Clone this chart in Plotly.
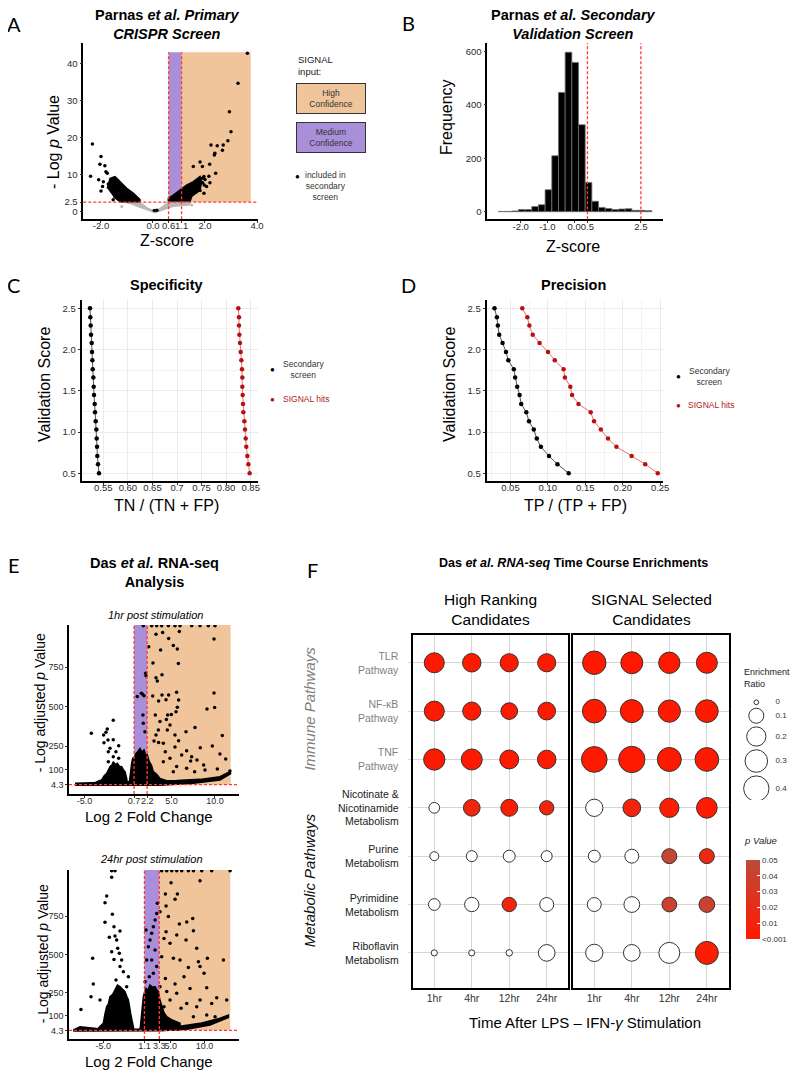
import plotly.graph_objects as go

# the page body keeps a default 8px margin, so the figure is drawn 8px in and 8px down
OX, OY = 8, 8
W, H = 800 - OX, 1077 - OY
FONT = "Liberation Sans"
ORANGE = "#F0C59B"
PURPLE = "#A98FD9"
RED_DASH = "#FF3B2F"

# ---------------- A: primary CRISPR screen (z-score vs -log p) ----------------
a_left_cloud_z = [-1.76, -1.65, -1.46, -1.27, -1.01, -0.76, -0.50, -0.50, -1.27, -1.53]
a_left_cloud_p = [6.2, 8.9, 9.4, 8.0, 6.2, 4.9, 3.2, 2.6, 2.6, 4.0]
a_right_cloud_z = [0.59, 0.59, 0.78, 1.04, 1.29, 1.55, 1.81, 1.87, 1.81, 1.49, 1.42]
a_right_cloud_p = [2.6, 3.5, 4.4, 5.8, 7.1, 8.0, 9.4, 8.0, 5.8, 4.0, 2.6]
a_gray_z = [-1.27, -0.50, -0.18, 0.08, 0.27, 0.59, 1.42, 1.42, 0.78, 0.40, 0.08, -0.24, -0.76]
a_gray_p = [2.5, 2.5, 0.8, 0.1, 0.8, 2.5, 2.5, 1.7, 1.3, 0.4, -0.4, 0.4, 1.7]
a_hit_z = [-2.33, -2.0, -2.04, -1.85, -2.40, -2.0, -1.81, -2.09, -1.91, -1.76, -1.94, -1.72, -1.53,
           3.63, 3.27, 2.94, 3.0, 2.88, 2.23, 2.47, 2.70, 2.67, 2.38, 2.36, 1.81, 1.90, 2.18,
           1.55, 2.41, 2.15, 1.96, 1.9, 1.76, 1.91, 1.97, 1.81, 1.68, 1.96, 2.06, 2.19, 2.0,
           0.05, 0.15]
a_hit_p = [18.2, 14.8, 12.7, 12.3, 9.5, 5.5, 10.7, 8.5, 8.0, 10.3, 6.7, 7.4, 3.1,
           42.7, 34.6, 26.9, 21.5, 19.1, 17.9, 17.7, 17.9, 16.5, 15.7, 15.2, 13.3, 12.1, 12.7,
           12.1, 10.3, 9.5, 9.4, 8.9, 7.9, 7.7, 7.1, 5.6, 5.3, 4.9, 6.7, 7.7, 8.6,
           0.2, 0.3]
a_gray_pts_z = [1.49, -1.2]
a_gray_pts_p = [1.7, 1.3]

# ---------------- B: secondary validation histogram ----------------
b_bin_centers = [-2.71, -2.46, -2.21, -1.96, -1.71, -1.46, -1.21, -0.96, -0.71, -0.46, -0.21, 0.04,
                 0.29, 0.54, 0.79, 1.04, 1.29, 1.54, 1.79, 2.04, 2.29, 2.54, 2.79]
b_counts = [1, 1, 3, 8, 8, 19, 26, 82, 209, 446, 596, 558, 325, 109, 39, 16, 12, 8, 10, 11, 5, 5, 4]

# ---------------- C / D: specificity and precision ----------------
val_score = [0.50, 0.61, 0.71, 0.82, 0.92, 1.03, 1.13, 1.24, 1.34, 1.45,
             1.55, 1.66, 1.76, 1.87, 1.97, 2.08, 2.18, 2.29, 2.39, 2.50]
spec_secondary = [0.5412, 0.5392, 0.5378, 0.5372, 0.5365, 0.5358, 0.5345, 0.5331, 0.5324, 0.5311,
                  0.5304, 0.5297, 0.5284, 0.5277, 0.5270, 0.5263, 0.5250, 0.5243, 0.5236, 0.5229]
spec_signal = [0.8479, 0.8452, 0.8432, 0.8411, 0.8398, 0.8384, 0.8371, 0.8350, 0.8344, 0.8337,
               0.8330, 0.8330, 0.8323, 0.8310, 0.8296, 0.8282, 0.8269, 0.8262, 0.8262, 0.8248]
prec_secondary = [0.1278, 0.1128, 0.1015, 0.0907, 0.0852, 0.0812, 0.0748, 0.0712, 0.0644, 0.0622,
                  0.0590, 0.0563, 0.0545, 0.0472, 0.0441, 0.0395, 0.0350, 0.0332, 0.0319, 0.0287]
prec_signal = [0.2468, 0.2300, 0.2119, 0.1916, 0.1803, 0.1708, 0.1617, 0.1572, 0.1409, 0.1323,
               0.1300, 0.1228, 0.1210, 0.1092, 0.1002, 0.0889, 0.0798, 0.0753, 0.0726, 0.0658]

# ---------------- E: RNA-seq volcano plots ----------------
e1_left_x = [-4.3, -3.98, -3.60, -3.30, -3.03, -2.75, -2.45, -2.25, -2.07, -1.85, -1.69, -1.45,
             -1.23, -0.95, -0.73, -0.50, -0.34, -0.15, -0.04]
e1_left_y = [2, 12, 23, 30, 34, 60, 76, 105, 119, 128, 150, 132, 140, 118, 119, 96, 87, 44, 2]
e1_mid_x = [0.11, 0.20, 0.31, 0.42, 0.54, 0.75, 0.92, 1.15, 1.38, 1.60, 1.84, 2.05, 2.22, 2.45,
            2.70, 2.91, 3.30, 3.68, 4.20, 4.83, 4.83]
e1_mid_y = [2, 60, 87, 140, 172, 180, 203, 215, 235, 212, 225, 190, 193, 150, 128, 87, 70, 44, 36, 23, 2]
e1_base_x = [-6.09, -3.98, -0.15, 5.59, 8.28, 10.57, 11.72, 11.8, 10.57, 7.51, 3.68, -6.09]
e1_base_y = [13, 17, 23, 30, 38, 55, 87, 74, 34, 13, 0, 0]
e1_pts_x = [2.72, 3.30, 3.87, 4.64, 5.40, 5.98, 7.32, 8.28, 9.23, 10.0, 1.76,
            3.98, 5.90, 3.22, 4.67, 5.21, 3.75, 5.67, 9.89, 2.38, 2.87,
            5.79, 3.91, 3.22, 3.37, 2.03, 2.07, 1.65, 1.84, 3.91, 4.67,
            2.84, 5.59, 5.82, 4.37, 9.89, 9.96, 9.08, 3.52, 5.67, 5.52,
            4.98, 4.56, 4.41, 3.68, 3.14, 3.49, 4.83, 4.52, 5.40, 7.70,
            6.67, 10.84, 5.82, 3.22, 2.99, 4.06, 3.52, 9.69, 8.31, 6.74,
            5.40, 7.32, 7.93, 10.57, 11.23, 8.70, 10.27, 7.20, 6.17, 4.29,
            4.83, 4.06, 6.74, 5.59, 5.21, 7.66, 8.85, 11.72,
            1.53, 1.95, 1.76, 1.72, 1.07,
            -4.21, -1.69, -2.38, -2.53, -2.80, -2.30, -1.69, -2.76, -1.07, -2.07, -1.38,
            -2.26, -1.69, -1.07, -2.26, -1.88]
e1_pts_y = [1015, 1015, 1015, 1015, 1015, 1015, 1015, 1015, 1015, 1015, 1015,
            972, 977, 960, 934, 888, 860, 867, 930, 881, 778,
            775, 703, 684, 663, 712, 697, 581, 570, 574, 574,
            568, 591, 542, 544, 587, 494, 485, 536, 496, 468,
            451, 447, 419, 405, 447, 352, 383, 352, 320, 367,
            341, 316, 284, 320, 282, 267, 273, 250, 239, 220,
            244, 182, 161, 199, 167, 129, 104, 155, 193, 214,
            172, 150, 108, 119, 87, 87, 97, 91,
            585, 341, 394, 447, 564,
            331, 413, 358, 337, 320, 288, 290, 271, 252, 235, 214,
            214, 182, 172, 150, 119]

e2_left_x = [-6.5, -5.98, -5.5, -4.99, -4.75, -4.49, -4.25, -4.0, -3.6, -3.26, -2.9, -2.52,
             -2.15, -1.78, -1.5, -1.28, -0.94, -0.64, -0.44]
e2_left_y = [2, 7, 30, 50, 110, 159, 175, 224, 240, 267, 300, 289, 275, 257, 225, 202, 115, 28, 2]
e2_mid_x = [0.44, 0.55, 0.69, 0.80, 0.94, 1.10, 1.33, 1.60, 1.93, 2.30, 2.67, 2.90, 3.16, 3.40,
            3.65, 4.00, 4.40, 5.30, 6.37, 6.37]
e2_mid_y = [2, 60, 115, 180, 224, 250, 278, 265, 300, 285, 289, 270, 257, 200, 159, 120, 93, 70, 50, 2]
e2_base_x = [-9.43, -8.44, -5.98, -0.05, 5.88, 9.33, 12.30, 13.53, 13.53, 10.81, 7.36, 3.41, -9.43]
e2_base_y = [7, 28, 17, 11, 28, 50, 83, 104, 89, 39, 11, 2, 0]
e2_pts_x = [3.65, 4.40, 5.14, 5.88, 6.62, 7.60, 8.35, 9.58, 11.06, 13.78, -3.75, -3.26,
            9.33, 5.04, 4.20, 5.98, 5.63, 4.30, 3.41, 4.64, 7.36, 8.25,
            6.27, 8.35, 4.30, 5.88, 7.26, 4.0, 4.89, 8.84, 10.42, 12.79,
            9.09, 3.65, 5.38, 6.37, 7.60, 9.33, 9.93, 6.96, 4.20, 5.63,
            7.85, 10.32, 11.80, 13.28, 9.33, 5.88, 4.89, 7.36, 11.06, 8.84,
            6.52, 4.0, 4.40, 3.41, 11.56, 10.32, 8.35,
            3.01, 2.91, 2.67, 2.42, 2.17, 1.93, 1.33, 1.68, 2.67, 1.43, 2.17, 2.91, 2.42, 1.83, 1.19,
            -3.75, -4.49, -4.74, -3.65, -4.74, -3.41, -2.52, -4.10, -3.26, -3.01, -2.86, -2.62,
            -3.75, -6.57, -3.41, -2.27, -2.52, -2.02, -1.28, -6.47, -3.11, -6.81, -8.30, -5.48, -1.53]
e2_pts_y = [1045, 1045, 1045, 1045, 1045, 1045, 1045, 1045, 1045, 1045, 1045, 1045,
            980, 967, 893, 893, 859, 815, 778, 746, 711, 733,
            698, 654, 648, 626, 593, 604, 572, 539, 474, 463,
            452, 485, 474, 463, 415, 420, 376, 354, 343, 307,
            278, 283, 217, 202, 202, 246, 202, 180, 180, 159,
            148, 159, 257, 289, 93, 104, 93,
            833, 767, 724, 680, 637, 593, 659, 550, 528, 463, 463, 420, 376, 354, 322,
            1002, 880, 837, 761, 709, 680, 652, 611, 620, 593, 539, 507,
            517, 474, 467, 463, 420, 387, 354, 307, 333, 224, 141, 202, 289]

# ---------------- F: enrichment dot plot ----------------
f_times = ["1hr", "4hr", "12hr", "24hr"]
f_pathways = ["TLR<br>Pathway", "NF-\u03baB<br>Pathway", "TNF<br>Pathway",
              "Nicotinate &<br>Nicotinamide<br>Metabolism", "Purine<br>Metabolism",
              "Pyrimidine<br>Metabolism", "Riboflavin<br>Metabolism"]
f_immune = [True, True, True, False, False, False, False]
hr_ratio = [[0.22, 0.18, 0.17, 0.17],
            [0.22, 0.17, 0.135, 0.16],
            [0.26, 0.25, 0.19, 0.18],
            [0.034, 0.135, 0.142, 0.087],
            [0.017, 0.037, 0.05, 0.037],
            [0.046, 0.087, 0.087, 0.081],
            [0.002, 0.002, 0.003, 0.135]]
hr_pval = [[0.0005, 0.0005, 0.0005, 0.0005],
           [0.0005, 0.0005, 0.0005, 0.0005],
           [0.0005, 0.0005, 0.0005, 0.0005],
           [1, 0.012, 0.002, 0.01],
           [1, 1, 1, 1],
           [1, 1, 0.01, 1],
           [1, 1, 1, 1]]
sg_ratio = [[0.33, 0.28, 0.26, 0.25],
            [0.34, 0.315, 0.29, 0.305],
            [0.415, 0.44, 0.35, 0.34],
            [0.15, 0.16, 0.20, 0.24],
            [0.05, 0.08, 0.10, 0.10],
            [0.08, 0.115, 0.095, 0.115],
            [0.15, 0.135, 0.25, 0.315]]
sg_pval = [[0.0005, 0.0005, 0.0005, 0.0005],
           [0.0005, 0.0005, 0.0005, 0.0005],
           [0.0005, 0.0005, 0.0005, 0.0005],
           [1, 0.01, 0.003, 0.001],
           [1, 1, 0.045, 0.015],
           [1, 1, 0.04, 0.04],
           [1, 1, 1, 0.004]]
legend_ratios = [0, 0.1, 0.2, 0.3, 0.4]
pval_ticks = [0.0, 0.01, 0.02, 0.03, 0.04, 0.05]
pval_ticktext = ["<0.001", "0.01", "0.02", "0.03", "0.04", "0.05"]


# page pixel -> paper fraction helpers
def px_x(x):
    return (x - OX) / W


def px_y(y):
    return 1 - (y - OY) / H


def xd(left, right):
    return [px_x(left), px_x(right)]


def yd(top, bottom):
    return [px_y(bottom), px_y(top)]


def dot_size(r):
    return 4.7 + 32.6 * r ** 0.5


def note(text, x, y, size=10, color="#000", angle=0, xanchor="center", yanchor="middle",
         align="center", family=FONT, **kw):
    d = dict(text=text, x=px_x(x), y=px_y(y), xref="paper", yref="paper", showarrow=False,
             font=dict(family=family, size=size, color=color), textangle=angle,
             xanchor=xanchor, yanchor=yanchor, align=align)
    d.update(kw)
    return d


def axis(domain, rng, anchor, **kw):
    d = dict(domain=domain, range=rng, anchor=anchor, showgrid=False, zeroline=False,
             showline=True, linecolor="black", linewidth=1.5, ticks="outside", ticklen=2,
             tickcolor="#333", tickangle=0, automargin=False,
             tickfont=dict(family=FONT, size=9.5, color="#2B2B2B"))
    d.update(kw)
    return d


fig = go.Figure()

# A
fig.add_trace(go.Scatter(x=a_gray_z, y=a_gray_p, fill="toself", fillcolor="#B8B8B8", mode="lines",
                         line=dict(color="#B8B8B8", width=1), xaxis="x", yaxis="y"))
fig.add_trace(go.Scatter(x=a_gray_pts_z, y=a_gray_pts_p, mode="markers",
                         marker=dict(color="#B8B8B8", size=3), xaxis="x", yaxis="y"))
for cx, cy in [(a_left_cloud_z, a_left_cloud_p), (a_right_cloud_z, a_right_cloud_p)]:
    fig.add_trace(go.Scatter(x=cx, y=cy, fill="toself", fillcolor="black", mode="lines",
                             line=dict(color="black", width=1.5), xaxis="x", yaxis="y"))
fig.add_trace(go.Scatter(x=a_hit_z, y=a_hit_p, mode="markers", marker=dict(color="black", size=3.5),
                         xaxis="x", yaxis="y"))

# B
fig.add_trace(go.Bar(x=b_bin_centers, y=b_counts, width=0.25, marker=dict(color="black",
                     line=dict(color="#707070", width=0.8)), xaxis="x2", yaxis="y2"))

# C, D
for xs, col, lcol, xa, ya in [(spec_secondary, "black", "#555", "x3", "y3"),
                              (spec_signal, "#B80F0F", "#E57373", "x3", "y3"),
                              (prec_secondary, "black", "#555", "x4", "y4"),
                              (prec_signal, "#B80F0F", "#E57373", "x4", "y4")]:
    fig.add_trace(go.Scatter(x=xs, y=val_score, mode="lines+markers",
                             line=dict(color=lcol, width=1), marker=dict(color=col, size=4.5),
                             xaxis=xa, yaxis=ya))

# E
for polys, px, py, xa, ya in [
        ([(e1_left_x, e1_left_y), (e1_mid_x, e1_mid_y), (e1_base_x, e1_base_y)], e1_pts_x, e1_pts_y, "x5", "y5"),
        ([(e2_left_x, e2_left_y), (e2_mid_x, e2_mid_y), (e2_base_x, e2_base_y)], e2_pts_x, e2_pts_y, "x6", "y6")]:
    for cx, cy in polys:
        fig.add_trace(go.Scatter(x=cx, y=cy, fill="toself", fillcolor="black", mode="lines",
                                 line=dict(color="black", width=1.5), xaxis=xa, yaxis=ya))
    fig.add_trace(go.Scatter(x=px, y=py, mode="markers", marker=dict(color="black", size=3.5),
                             xaxis=xa, yaxis=ya))

# F dot plots
for ratio, pval, xa, ya in [(hr_ratio, hr_pval, "x7", "y7"), (sg_ratio, sg_pval, "x8", "y8")]:
    sx, sy, ss, sc, nx, ny, ns = [], [], [], [], [], [], []
    for i in range(len(f_pathways)):
        for j in range(len(f_times)):
            if pval[i][j] <= 0.05:
                sx.append(j); sy.append(i); ss.append(dot_size(ratio[i][j])); sc.append(pval[i][j])
            else:
                nx.append(j); ny.append(i); ns.append(dot_size(ratio[i][j]))
    fig.add_trace(go.Scatter(x=nx, y=ny, mode="markers", xaxis=xa, yaxis=ya,
                             marker=dict(size=ns, color="white", opacity=1,
                                         line=dict(color="#333", width=1))))
    fig.add_trace(go.Scatter(x=sx, y=sy, mode="markers", xaxis=xa, yaxis=ya,
                             marker=dict(size=ss, color=sc, coloraxis="coloraxis", opacity=1,
                                         line=dict(color="#333", width=1))))

# size legend (stacked circles)
leg_sizes = [dot_size(r) for r in legend_ratios]
leg_y = []
cur = 702.3
for k, s in enumerate(leg_sizes):
    if k > 0:
        cur += (leg_sizes[k - 1] + s) / 2 + 3.6
    leg_y.append(cur)
fig.add_trace(go.Scatter(x=[756.3] * len(leg_sizes), y=leg_y, mode="markers", xaxis="x9", yaxis="y9",
                         marker=dict(size=leg_sizes, color="white", opacity=1,
                                     line=dict(color="#333", width=1))))
fig.add_trace(go.Scatter(x=[775.5] * len(leg_sizes), y=leg_y, mode="text", xaxis="x9", yaxis="y9",
                         text=[str(r) for r in legend_ratios], textposition="middle right",
                         textfont=dict(family=FONT, size=8, color="#333")))

fig.update_traces(showlegend=False, hoverinfo="skip")

grid = "#EBEBEB"
f_grid = "#D6D6D6"
small = dict(family=FONT, size=9, color="#2B2B2B")
layout = dict(
    width=W, height=H, margin=dict(l=0, r=0, t=0, b=0, pad=0, autoexpand=False),
    plot_bgcolor="white", paper_bgcolor="white", showlegend=False,
    font=dict(family=FONT),
    xaxis=axis(xd(83.3, 258.3), [-2.68, 4.05], "y", tickvals=[-2.0, 0.0, 0.6, 1.1, 2.0, 4.0],
               ticktext=["-2.0", "0.0", "0.6", "1.1", "2.0", "4.0"], ticklabelstandoff=-5),
    yaxis=axis(yd(43.3, 219.3), [-2.16, 45.4], "x", tickvals=[0, 2.5, 10, 20, 30, 40],
               ticktext=["0", "2.5", "10", "20", "30", "40"]),
    xaxis2=axis(xd(487.3, 663.3), [-3.25, 3.34], "y2", tickvals=[-2.0, -1.0, 0.0, 0.5, 2.5],
                ticktext=["-2.0", "-1.0", "0.0", "0.5", "2.5"], ticklabelstandoff=-4),
    yaxis2=axis(yd(43.3, 219.3), [-28.4, 629.5], "x2", tickvals=[0, 200, 400, 600]),
    xaxis3=axis(xd(81.7, 258.3), [0.506, 0.8655], "y3", tickvals=[0.55, 0.6, 0.65, 0.7, 0.75, 0.8, 0.85],
                ticktext=["0.55", "0.60", "0.65", "0.7", "0.75", "0.80", "0.85"], showgrid=True,
                gridcolor=grid, linewidth=2, ticklabelstandoff=-5),
    yaxis3=axis(yd(300, 480.7), [0.41, 2.6], "x3", tickvals=[0.5, 1.0, 1.5, 2.0, 2.5],
                ticktext=["0.5", "1.0", "1.5", "2.0", "2.5"], showgrid=True, gridcolor=grid, linewidth=2,
                minor=dict(dtick=0.25, tick0=0.25, showgrid=True, gridcolor="#F3F3F3")),
    xaxis4=axis(xd(486.7, 663.3), [0.0183, 0.2542], "y4", tickvals=[0.05, 0.10, 0.15, 0.20, 0.25],
                ticktext=["0.05", "0.10", "0.15", "0.20", "0.25"], showgrid=True, gridcolor=grid, linewidth=2,
                ticklabelstandoff=-5,
                minor=dict(dtick=0.025, tick0=0.025, showgrid=True, gridcolor="#F3F3F3")),
    yaxis4=axis(yd(300, 480.7), [0.41, 2.6], "x4", tickvals=[0.5, 1.0, 1.5, 2.0, 2.5],
                ticktext=["0.5", "1.0", "1.5", "2.0", "2.5"], showgrid=True, gridcolor=grid, linewidth=2,
                minor=dict(dtick=0.25, tick0=0.25, showgrid=True, gridcolor="#F3F3F3")),
    xaxis5=axis(xd(69, 239), [-6.78, 12.76], "y5", tickvals=[-5, 0.7, 2.2, 5, 10],
                ticktext=["-5.0", "0.7", "2.2", "5.0", "10.0"], tickfont=small, ticklabelstandoff=-5),
    yaxis5=axis(yd(625, 794), [-55, 1019], "x5", tickvals=[4.3, 100, 250, 500, 750],
                ticktext=["4.3", "100", "250", "500", "750"], tickfont=small),
    xaxis6=axis(xd(69, 239), [-10.07, 15.1], "y6", tickvals=[-5, 1.1, 3.3, 5, 10],
                ticktext=["-5.0", "1.1", "3.3", "5.0", "10.0"], tickfont=small, ticklabelstandoff=-5),
    yaxis6=axis(yd(870, 1039), [-52, 1050], "x6", tickvals=[4.3, 100, 250, 500, 750],
                ticktext=["4.3", "100", "250", "500", "750"], tickfont=small),
    xaxis7=axis(xd(412.7, 567.7), [-0.576, 3.56], "y7", tickvals=[0, 1, 2, 3], ticktext=f_times,
                showgrid=True, gridcolor=f_grid, mirror=True, linewidth=2, ticks="",
                tickfont=dict(family=FONT, size=10.5, color="#333")),
    yaxis7=axis(yd(635, 987.7), [6.72, -0.574], "x7", tickvals=list(range(7)), showticklabels=False,
                showgrid=True, gridcolor=f_grid, mirror=True, linewidth=2, tickcolor=f_grid, ticklen=3),
    xaxis8=axis(xd(573.3, 729), [-0.559, 3.59], "y8", tickvals=[0, 1, 2, 3], ticktext=f_times,
                showgrid=True, gridcolor=f_grid, mirror=True, linewidth=2, ticks="",
                tickfont=dict(family=FONT, size=10.5, color="#333")),
    yaxis8=axis(yd(635, 987.7), [6.72, -0.574], "x8", tickvals=list(range(7)), showticklabels=False,
                showgrid=True, gridcolor=f_grid, mirror=True, linewidth=2, ticks=""),
    xaxis9=dict(domain=xd(740, 790), range=[740, 790], anchor="y9", visible=False),
    yaxis9=dict(domain=yd(695, 800), range=[800, 695], anchor="x9", visible=False),
    coloraxis=dict(colorscale=[[0, "#FF1A00"], [1, "#BE4A3B"]], cmin=0, cmax=0.05,
                   colorbar=dict(x=px_x(746), xanchor="left", xpad=0, y=px_y(860), yanchor="top",
                                 ypad=0, len=79 / H, lenmode="fraction", thickness=14,
                                 outlinewidth=0, tickvals=pval_ticks, ticktext=pval_ticktext,
                                 ticks="inside", tickcolor="white", ticklen=3,
                                 tickfont=dict(family=FONT, size=8, color="#333"))),
)
fig.update_layout(**layout)

shapes = []


def band(xa, ya, x0, x1, y0, y1, color):
    shapes.append(dict(type="rect", xref=xa, yref=ya, x0=x0, x1=x1, y0=y0, y1=y1,
                       fillcolor=color, line=dict(width=0), layer="below"))


def dash_line(xa, ya, x0, x1, y0, y1):
    shapes.append(dict(type="line", xref=xa, yref=ya, x0=x0, x1=x1, y0=y0, y1=y1,
                       line=dict(color=RED_DASH, width=1.3, dash="3px,2px"), layer="above"))


band("x", "y", 1.1, 3.76, 2.5, 43, ORANGE)
band("x", "y", 0.6, 1.1, 2.5, 43, PURPLE)
dash_line("x domain", "y", 0, 1, 2.5, 2.5)
dash_line("x", "y", 0.6, 0.6, -2.16, 43)
dash_line("x", "y", 1.1, 1.1, -2.16, 43)

dash_line("x2", "y2 domain", 0.5, 0.5, 0, 1)
dash_line("x2", "y2 domain", 2.5, 2.5, 0, 1)

band("x5", "y5", 2.2, 11.8, 4.3, 1019, ORANGE)
band("x5", "y5", 0.7, 2.2, 4.3, 1019, PURPLE)
dash_line("x5 domain", "y5", 0, 1, 4.3, 4.3)
dash_line("x5", "y5", 0.7, 0.7, -55, 1019)
dash_line("x5", "y5", 2.2, 2.2, -55, 1019)

band("x6", "y6", 3.3, 13.8, 4.3, 1050, ORANGE)
band("x6", "y6", 1.1, 3.3, 4.3, 1050, PURPLE)
dash_line("x6 domain", "y6", 0, 1, 4.3, 4.3)
dash_line("x6", "y6", 1.1, 1.1, -52, 1050)
dash_line("x6", "y6", 3.3, 3.3, -52, 1050)

ann = []
# panel letters
for letter, lx, ly in [("A", 14, 24), ("B", 409, 23), ("C", 13, 285), ("D", 409, 285),
                       ("E", 14, 565), ("F", 312, 570)]:
    ann.append(note(letter, lx, ly, size=20, family="Lato"))

# titles
ann.append(note("<b>Parnas <i>et al. Primary</i><br><i>CRISPR Screen</i></b>", 166.7, 24.5, size=14.5))
ann.append(note("<b>Parnas <i>et al. Secondary</i><br><i>Validation Screen</i></b>", 573, 24.5, size=14.5))
ann.append(note("<b>Specificity</b>", 166.7, 285, size=14.5))
ann.append(note("<b>Precision</b>", 573.3, 285, size=14.5))
ann.append(note("<b>Das <i>et al.</i> RNA-seq<br>Analysis</b>", 154.7, 572, size=14.5))
ann.append(note("<b>Das <i>et al. RNA-seq</i> Time Course Enrichments</b>", 573.7, 562.7, size=12.5))

# axis titles
ann.append(note("- Log <i>p</i> Value", 53.3, 141.7, size=16, angle=-90))
ann.append(note("Z-score", 166.7, 240, size=16))
ann.append(note("Frequency", 446.7, 117.3, size=16, angle=-90))
ann.append(note("Z-score", 572.7, 246.7, size=16))
ann.append(note("Validation Score", 45, 385, size=16, angle=-90))
ann.append(note("TN / (TN + FP)", 166.7, 505, size=16))
ann.append(note("Validation Score", 450, 385, size=16, angle=-90))
ann.append(note("TP / (TP + FP)", 575, 505, size=16))
ann.append(note("<i>1hr post stimulation</i>", 155, 615.3, size=11))
ann.append(note("<i>24hr post stimulation</i>", 151.7, 859.3, size=11))
ann.append(note("- Log adjusted <i>p</i> Value", 40, 703.3, size=14, angle=-90))
ann.append(note("- Log adjusted <i>p</i> Value", 43.3, 954, size=14, angle=-90))
ann.append(note("Log 2 Fold Change", 148.8, 816.7, size=15))
ann.append(note("Log 2 Fold Change", 148.8, 1061.7, size=15))

# A legend
ann.append(note("SIGNAL<br>input:", 296, 65, size=9.5, xanchor="left", align="left", color="#222"))
ann.append(note("High<br>Confidence", 330.5, 98.5, size=8.5, color="#333", bgcolor=ORANGE,
                bordercolor="#333", borderwidth=1, width=66, height=27, borderpad=1))
ann.append(note("Medium<br>Confidence", 330.5, 137, size=8.5, color="#333", bgcolor=PURPLE,
                bordercolor="#333", borderwidth=1, width=66, height=27, borderpad=1))
ann.append(note("\u25CF", 297, 176, size=8, color="black"))
ann.append(note("included in<br>secondary<br>screen", 325, 186, size=8.5, color="#333"))

# C / D legends
for cx0, cy0 in [(272.7, 370), (678.3, 376)]:
    ann.append(note("\u25CF", cx0, cy0, size=8, color="black"))
    ann.append(note("Secondary<br>screen", cx0 + 31, cy0, size=8.5, color="#333"))
    ann.append(note("\u25CF", cx0, cy0 + 29, size=8, color="#B80F0F"))
    ann.append(note("SIGNAL hits", cx0 + 8, cy0 + 29, size=8.5, color="#B22222", xanchor="left"))

# F labels
ann.append(note("High Ranking<br>Candidates", 490.2, 609, size=15.5))
ann.append(note("SIGNAL Selected<br>Candidates", 651, 609, size=15.5))
for i, name in enumerate(f_pathways):
    ann.append(dict(text=name, x=px_x(400.7), y=i, xref="paper", yref="y7", showarrow=False,
                    xanchor="right", yanchor="middle", align="right",
                    font=dict(family=FONT, size=10.5, color="#7F7F7F" if f_immune[i] else "#1A1A1A")))
ann.append(note("<i>Immune Pathways</i>", 309.3, 708.3, size=15, angle=-90, color="#7F7F7F"))
ann.append(note("<i>Metabolic Pathways</i>", 309.3, 880, size=15, angle=-90, color="#111"))
ann.append(note("Time After LPS \u2013 IFN-<i>\u03b3</i> Stimulation", 585, 1022.7, size=15))
ann.append(note("Enrichment<br>Ratio", 742, 678.3, size=9, xanchor="left", align="left", color="#222"))
ann.append(note("<i>p Value</i>", 760, 840, size=9.5, color="#222"))

fig.update_layout(shapes=shapes, annotations=ann)

fig.write_html("out.html")
